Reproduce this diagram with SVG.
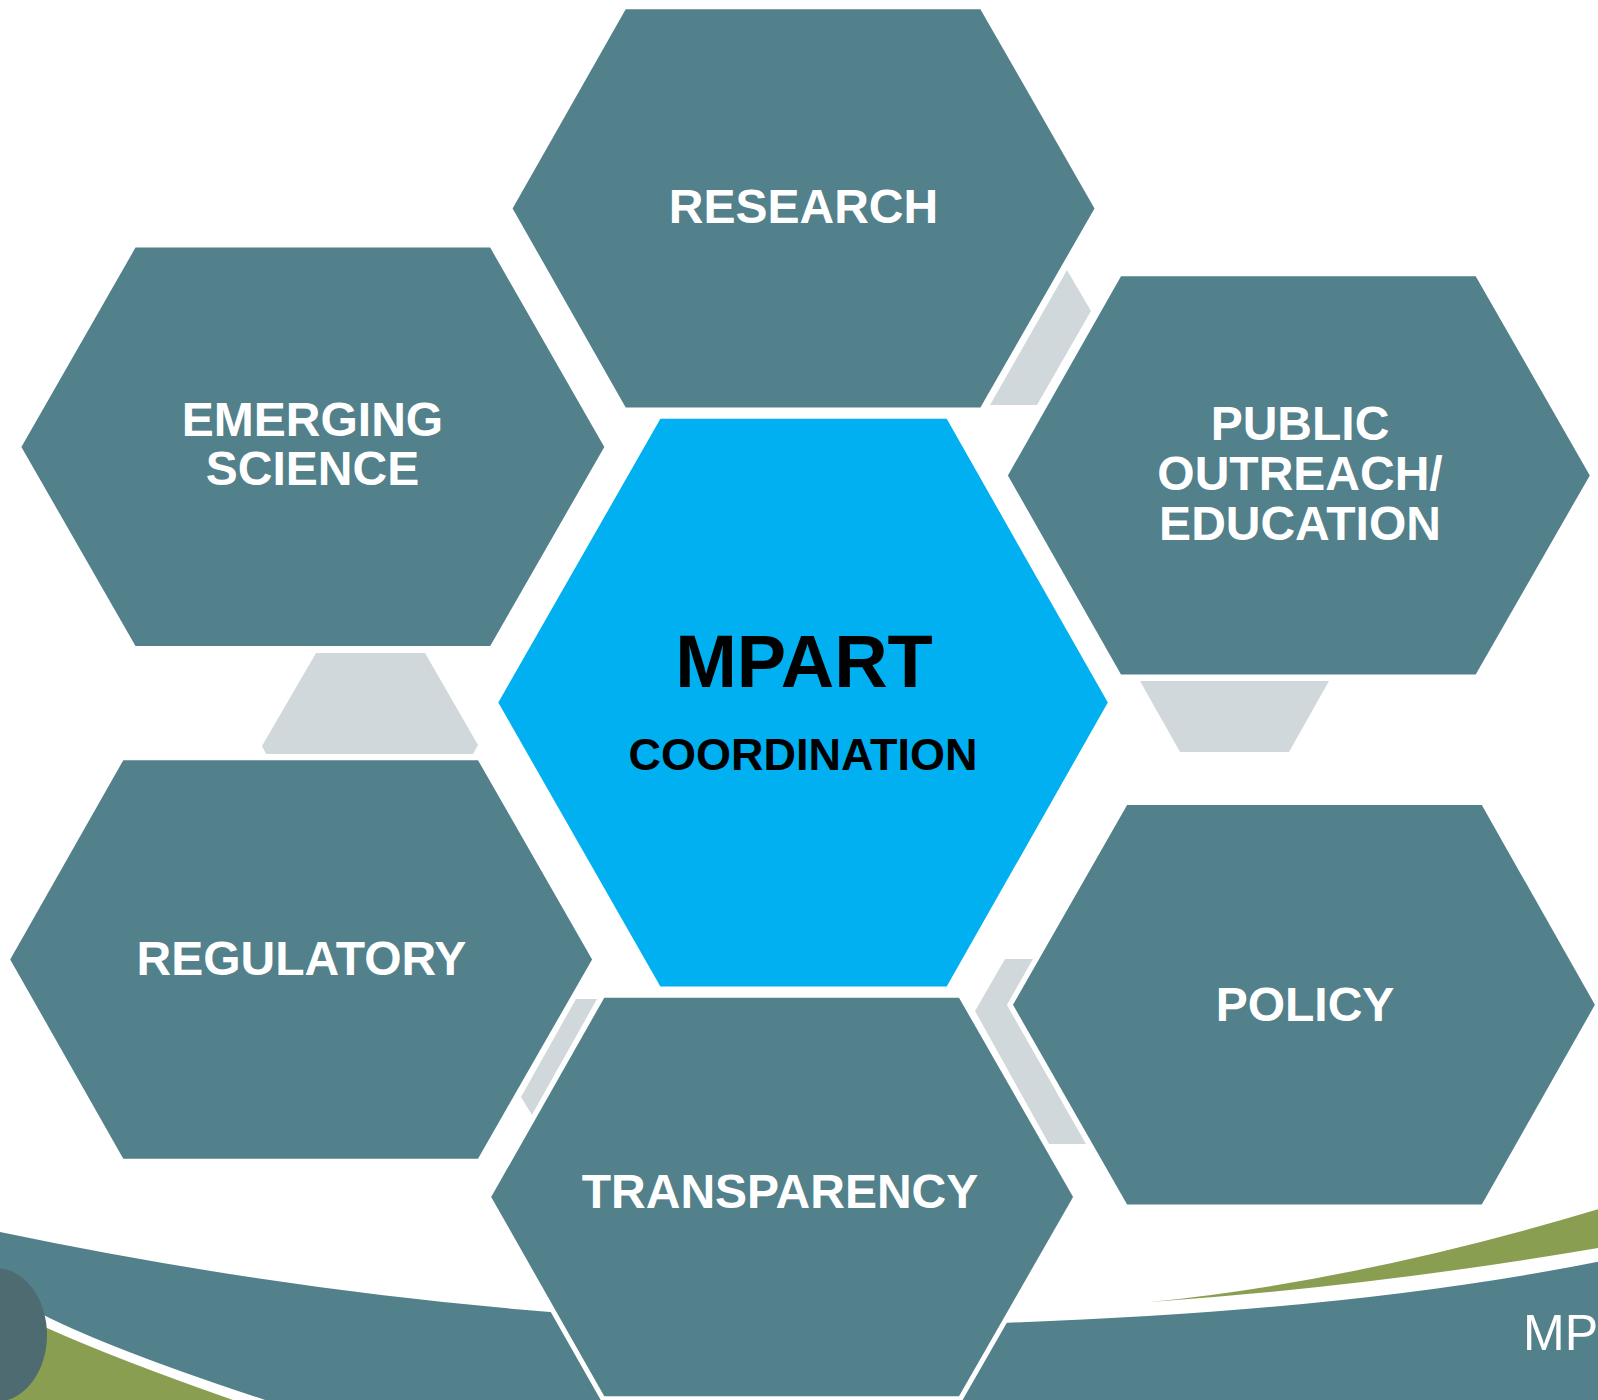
<svg xmlns="http://www.w3.org/2000/svg" width="1598" height="1400" viewBox="0 0 1598 1400">
<style>
.hex{fill:#52808b;stroke:#fff;stroke-width:10;stroke-linejoin:miter;paint-order:stroke}
.core{fill:#00b0f0}
.gray{fill:#d1d8dc}
.teal{fill:#52808b}
.green{fill:#8a9e51}
.lbl{font-family:"Liberation Sans",Arial,sans-serif;font-weight:700;font-size:48px;fill:#fff;text-anchor:middle}
.dark{font-family:"Liberation Sans",Arial,sans-serif;font-weight:700;fill:#000;text-anchor:middle}
</style>
<rect width="1598" height="1400" fill="#fff"/>
<g id="footer-band">
<path class="teal" d="M0,1232 Q277,1290 550,1312 L640,1318 L640,1400 L265,1400 Q113,1350 43.5,1315 L0,1296 Z"/>
<path class="green" d="M47,1328 Q116,1359 233,1400 L0,1400 L0,1320 Z"/>
<ellipse cx="-5" cy="1335" rx="52" ry="67" fill="#4d6b70"/>
<path class="teal" d="M950,1324 L1008,1322.7 Q1353,1310.6 1598,1261.7 L1598,1400 L950,1400 Z"/>
<path class="green" d="M1150,1302 Q1358.5,1281.2 1598,1209.3 L1598,1248 Q1372,1286.5 1150,1302 Z"/>
<text x="1523" y="1350" font-family="'Liberation Sans',Arial,sans-serif" font-size="50" fill="#fff">MP</text>
</g>
<g id="connectors">
<polygon class="gray" points="1067,270 1091,311 1037,405 990,405"/>
<polygon class="gray" points="316,653 425,653 478,745 473,754 266,754 262,746"/>
<polygon class="gray" points="1140,681 1329,681 1289,752 1180,752"/>
<polygon class="gray" points="1005,959 1033,959 1007,1005 1086,1144 1049,1144 975,1011"/>
<polygon class="gray" points="576,999 597,999 532,1115 521,1097"/>
</g>
<g id="node-research">
<polygon class="hex" points="625.7,9.2 980.4,9.2 1094.5,208.4 980.4,407.6 625.7,407.6 512.6,208.4"/>
<text class="lbl" x="803.5" y="222.5">RESEARCH</text>
</g>
<g id="node-emerging-science">
<polygon class="hex" points="135.5,247.6 490.2,247.6 604.3,446.9 490.2,646.1 135.5,646.1 21.4,446.9"/>
<text class="lbl" x="312.5" y="436">EMERGING</text>
<text class="lbl" x="312.5" y="485">SCIENCE</text>
</g>
<g id="node-public-outreach">
<polygon class="hex" points="1121,276.2 1475.7,276.2 1589.8,475.4 1475.7,674.6 1121,674.6 1007.9,475.4"/>
<text class="lbl" x="1300" y="440">PUBLIC</text>
<text class="lbl" x="1300" y="490">OUTREACH/</text>
<text class="lbl" x="1300" y="539.5">EDUCATION</text>
</g>
<g id="node-regulatory">
<polygon class="hex" points="123.3,760.2 478,760.2 592.1,959.4 478,1158.7 123.3,1158.7 10.2,959.4"/>
<text class="lbl" x="301.5" y="975">REGULATORY</text>
</g>
<g id="node-policy">
<polygon class="hex" points="1127.1,805.1 1481.8,805.1 1594.9,1004.8 1481.8,1204.6 1127.1,1204.6 1013,1004.8"/>
<text class="lbl" x="1305" y="1020.5">POLICY</text>
</g>
<g id="node-transparency">
<polygon class="hex" points="604.3,997.7 959,997.7 1073.1,1197 959,1396.2 604.3,1396.2 491.2,1197"/>
<text class="lbl" x="780" y="1208">TRANSPARENCY</text>
</g>
<g id="node-mpart">
<polygon class="core" points="660.4,418.8 946.7,418.8 1107.8,702.6 946.7,986.5 660.4,986.5 498.3,702.6"/>
<text class="dark" x="804" y="687" font-size="74">MPART</text>
<text class="dark" x="803" y="770" font-size="45">COORDINATION</text>
</g>
</svg>
